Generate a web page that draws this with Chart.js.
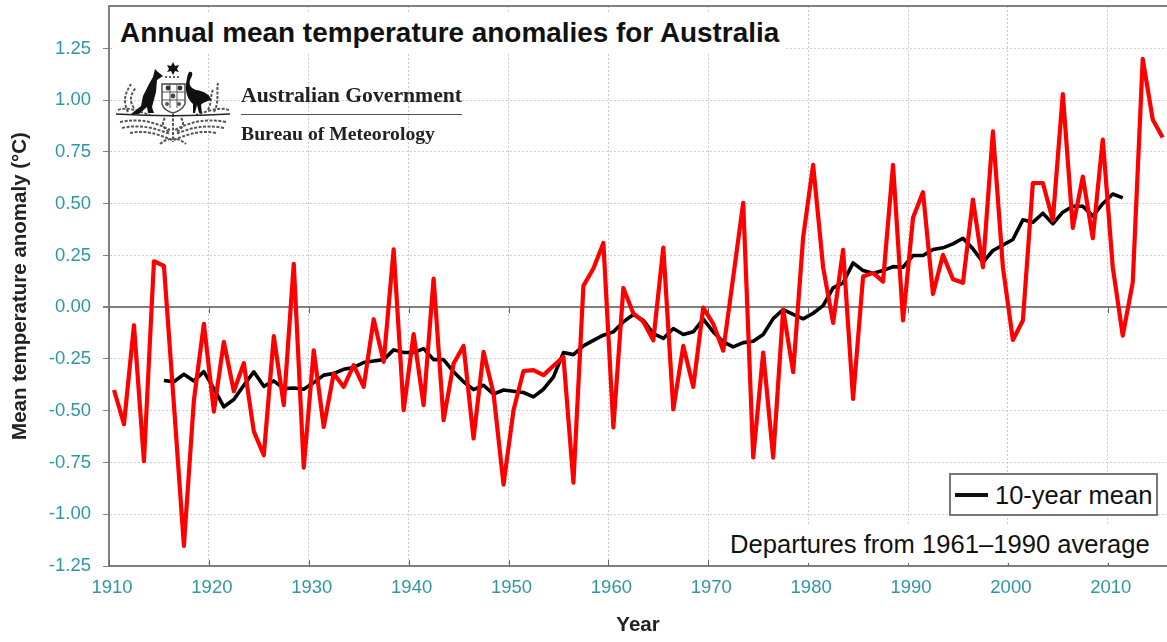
<!DOCTYPE html>
<html>
<head>
<meta charset="utf-8">
<title>Annual mean temperature anomalies for Australia</title>
<script src="https://cdn.jsdelivr.net/npm/chart.js@4/dist/chart.umd.min.js"></script>
<style>
  html, body { margin: 0; padding: 0; background: #fff; }
  #wrap { position: relative; width: 1167px; height: 642px; overflow: hidden; font-family: "Liberation Sans", Arial, sans-serif; }
  #myChart { position: absolute; left: 0; top: 0; }
  .box { position: absolute; white-space: nowrap; color: #111; }
  #chartTitle { left: 114px; top: 14px; height: 38px; width: 672px; padding-left: 6px; box-sizing: border-box; background: #fff; font-weight: bold; font-size: 27.9px; line-height: 37px; }
  #note { left: 722px; top: 526px; height: 37px; width: 436px; padding-left: 8px; box-sizing: border-box; background: #fff; font-size: 25.6px; line-height: 37px; }
  #legendBox { left: 949px; top: 473px; width: 209px; height: 43px; box-sizing: border-box; background: #fff; border: 2px solid #777; font-size: 25.5px; line-height: 41px; padding-left: 44px; }
  #legendLine { position: absolute; left: 4px; top: 18px; width: 33px; height: 4px; background: #111; }
  .org { font-family: "Liberation Serif", serif; font-weight: bold; color: #222; }
  #org1 { left: 241px; top: 83px; font-size: 21.7px; }
  #org2 { left: 241px; top: 122px; font-size: 19.7px; }
  #orgRule { position: absolute; left: 241px; top: 114px; width: 221px; height: 1px; background: #555; }
  #crest { position: absolute; left: 0; top: 0; }
</style>
</head>
<body>
<div id="wrap">
  <canvas id="myChart" width="1167" height="642"></canvas>
  <div class="box" id="chartTitle">Annual mean temperature anomalies for Australia</div>

  <svg id="crest" width="240" height="150" viewBox="0 0 240 150">
    <g fill="none" stroke="#555" stroke-width="2" stroke-dasharray="3 1.5">
      <path d="M128 112 C122 100 126 92 131 84"/>
      <path d="M134 108 C128 100 132 92 136 88"/>
      <path d="M214 112 C220 100 216 92 218 83"/>
      <path d="M208 110 C212 102 210 96 213 90"/>
      <path d="M120 122 C140 118 155 122 170 130"/>
      <path d="M226 122 C205 118 190 122 175 130"/>
      <path d="M122 128 C140 124 155 128 170 134"/>
      <path d="M224 128 C205 124 190 128 176 134"/>
      <path d="M130 133 C145 130 158 134 172 140"/>
      <path d="M216 133 C200 130 188 134 174 140"/>
      <path d="M118 110 C128 106 140 112 150 115"/>
      <path d="M229 110 C218 106 206 112 196 115"/>
      <path d="M173 114 L173 142"/>
      <path d="M160 144 C168 137 178 137 186 144"/>
      <path d="M165 118 C160 124 165 130 170 132"/>
      <path d="M181 118 C186 124 181 130 176 132"/>
    </g>
    <path d="M116 114 C150 116 195 116 230 114" fill="none" stroke="#222" stroke-width="1.5"/>
    <!-- kangaroo -->
    <path fill="#111" d="M155 69 L158 72 L163 76 L157 80 L156 92 L152 107 L154 113 L148 113 L147 107 L139 114 L131 114 L141 106 L143 96 L149 84 L153 77 Z"/>
    <!-- emu -->
    <path fill="#111" d="M189 72 C193 71 193 75 191 78 C188 83 190 88 196 90 C205 91 211 96 211 100 C205 102 202 103 201 105 L202 113 L199 113 L197 105 L195 113 L193 113 L193 104 C188 100 185 92 186 84 C187 79 187 75 189 72 Z"/>
    <!-- shield -->
    <path fill="#fff" stroke="#444" stroke-width="1.4" d="M162 84 L185 84 L185 104 C182 110 177 112 173 113 C169 112 164 110 162 104 Z"/>
    <path fill="none" stroke="#555" stroke-width="1" d="M162 92 L185 92 M162 100 L185 100 M170 84 L170 108 M177 84 L177 108"/>
    <circle cx="168" cy="88" r="2.4" fill="#333"/><circle cx="180" cy="88" r="2.4" fill="#333"/>
    <circle cx="173" cy="96" r="2.4" fill="#444"/><circle cx="167" cy="104" r="2" fill="#555"/><circle cx="179" cy="104" r="2" fill="#555"/>
    <!-- star and wreath -->
    <path fill="#111" d="M173 62 L175 66 L179 65 L177 69 L179 72 L175 71 L173 75 L171 71 L167 72 L169 69 L167 65 L171 66 Z"/>
    <path stroke="#333" stroke-width="1.5" stroke-dasharray="2 2" d="M165 77 L181 77"/>
  </svg>
  <div class="box org" id="org1">Australian Government</div>
  <div id="orgRule"></div>
  <div class="box org" id="org2">Bureau of Meteorology</div>

  <div class="box" id="legendBox"><span id="legendLine"></span>10-year mean</div>
  <div class="box" id="note">Departures from 1961–1990 average</div>
</div>

<script>
const axisGrey = '#808080';
const gridGrey = '#cccccc';
const tealText = '#2f97a3';

const yTicks = [-1.25, -1.00, -0.75, -0.50, -0.25, 0, 0.25, 0.50, 0.75, 1.00, 1.25];
const xTicks = [1910, 1920, 1930, 1940, 1950, 1960, 1970, 1980, 1990, 2000, 2010];

const years = [
  1910, 1911, 1912, 1913, 1914, 1915, 1916, 1917, 1918, 1919,
  1920, 1921, 1922, 1923, 1924, 1925, 1926, 1927, 1928, 1929,
  1930, 1931, 1932, 1933, 1934, 1935, 1936, 1937, 1938, 1939,
  1940, 1941, 1942, 1943, 1944, 1945, 1946, 1947, 1948, 1949,
  1950, 1951, 1952, 1953, 1954, 1955, 1956, 1957, 1958, 1959,
  1960, 1961, 1962, 1963, 1964, 1965, 1966, 1967, 1968, 1969,
  1970, 1971, 1972, 1973, 1974, 1975, 1976, 1977, 1978, 1979,
  1980, 1981, 1982, 1983, 1984, 1985, 1986, 1987, 1988, 1989,
  1990, 1991, 1992, 1993, 1994, 1995, 1996, 1997, 1998, 1999,
  2000, 2001, 2002, 2003, 2004, 2005, 2006, 2007, 2008, 2009,
  2010, 2011, 2012, 2013, 2014, 2015
];

const annualAnomaly = [
  -0.40, -0.565, -0.087, -0.744, 0.222, 0.20, -0.47, -1.153, -0.45, -0.08,
  -0.504, -0.167, -0.406, -0.27, -0.60, -0.715, -0.14, -0.473, 0.21, -0.775,
  -0.208, -0.578, -0.32, -0.385, -0.28, -0.385, -0.058, -0.264, 0.279, -0.497,
  -0.13, -0.473, 0.138, -0.546, -0.272, -0.187, -0.634, -0.216, -0.417, -0.857,
  -0.498, -0.308, -0.304, -0.328, -0.283, -0.24, -0.847, 0.103, 0.187, 0.31,
  -0.581, 0.093, -0.03, -0.07, -0.16, 0.288, -0.494, -0.187, -0.385, -0.002,
  -0.08, -0.21, 0.146, 0.504, -0.726, -0.219, -0.726, -0.011, -0.314, 0.338,
  0.688, 0.193, -0.076, 0.277, -0.443, 0.148, 0.166, 0.124, 0.688, -0.064,
  0.432, 0.556, 0.064, 0.253, 0.135, 0.118, 0.52, 0.193, 0.849, 0.193,
  -0.158, -0.064, 0.60, 0.60, 0.42, 1.03, 0.383, 0.631, 0.333, 0.81,
  0.193, -0.137, 0.12, 1.20, 0.907, 0.82
];

// runs 1915 to 2011
const tenYearStart = 1915;
const tenYearMean = [
  -0.354, -0.36, -0.324, -0.356, -0.311,
  -0.393, -0.481, -0.446, -0.377, -0.312, -0.382, -0.356, -0.393, -0.39, -0.396,
  -0.364, -0.328, -0.32, -0.30, -0.291, -0.267, -0.26, -0.253, -0.206, -0.219,
  -0.219, -0.20, -0.253, -0.253, -0.312, -0.36, -0.398, -0.377, -0.42, -0.40,
  -0.406, -0.412, -0.433, -0.396, -0.337, -0.219, -0.229, -0.187, -0.16, -0.135,
  -0.119, -0.071, -0.035, -0.063, -0.127, -0.151, -0.103, -0.132, -0.119, -0.058,
  -0.119, -0.167, -0.192, -0.171, -0.164, -0.132, -0.055, -0.011, -0.035, -0.056,
  -0.029, 0.008, 0.093, 0.118, 0.214, 0.177, 0.164, 0.177, 0.196, 0.193,
  0.25, 0.25, 0.279, 0.287, 0.306, 0.333, 0.282, 0.217, 0.274, 0.30,
  0.327, 0.422, 0.41, 0.454, 0.403, 0.459, 0.488, 0.488, 0.44, 0.50,
  0.547, 0.528
];

// annual values sit mid-year on the axis
const redPoints = years.map((yr, i) => ({ x: yr + 0.5, y: annualAnomaly[i] }));
const blackPoints = tenYearMean.map((v, i) => ({ x: tenYearStart + i + 0.5, y: v }));

const frameLines = {
  id: 'frameLines',
  beforeDatasetsDraw(c) {
    const { ctx, chartArea: a, scales } = c;
    ctx.save();
    ctx.strokeStyle = axisGrey;
    ctx.lineWidth = 2;
    ctx.beginPath();
    ctx.moveTo(a.left, a.top);
    ctx.lineTo(a.right, a.top);
    ctx.stroke();
    // small inward ticks on the base line and the zero line
    ctx.lineWidth = 1;
    ctx.strokeStyle = '#666';
    const zero = scales.y.getPixelForValue(0);
    xTicks.forEach(t => {
      const px = Math.round(scales.x.getPixelForValue(t)) + 0.5;
      ctx.beginPath();
      ctx.moveTo(px, zero);
      ctx.lineTo(px, zero + 6);
      ctx.moveTo(px, a.bottom);
      ctx.lineTo(px, a.bottom - 6);
      ctx.stroke();
    });
    ctx.restore();
  }
};

new Chart(document.getElementById('myChart').getContext('2d'), {
  type: 'line',
  data: {
    datasets: [
      { label: '10-year mean', data: blackPoints, borderColor: '#000', borderWidth: 3.6, borderJoinStyle: 'round', pointRadius: 0, tension: 0, order: 2 },
      { label: 'Annual mean', data: redPoints, borderColor: '#ff0000', borderWidth: 4.2, borderJoinStyle: 'round', pointRadius: 0, tension: 0, order: 1 }
    ]
  },
  plugins: [frameLines],
  options: {
    responsive: false,
    animation: false,
    layout: { padding: { top: 6, right: 0, left: 0, bottom: 0 } },
    plugins: { legend: { display: false }, tooltip: { enabled: false }, title: { display: false } },
    scales: {
      x: {
        type: 'linear',
        min: 1910,
        max: 2015.93,
        afterBuildTicks: s => { s.ticks = xTicks.map(v => ({ value: v })); },
        afterFit: s => { s.height = 76; s.paddingLeft = 0; s.paddingRight = 0; },
        ticks: {
          color: tealText,
          font: { family: '"Liberation Sans"', size: 18.5 },
          padding: 11,
          labelOffset: 3,
          maxRotation: 0,
          callback: v => String(v)
        },
        grid: { color: gridGrey, lineWidth: 1, drawTicks: false },
        border: { color: axisGrey, width: 2, dash: [2, 2] },
        title: {
          display: true, text: 'Year', color: '#222',
          font: { family: '"Liberation Sans"', size: 20.5, weight: 'bold' },
          padding: { top: 0, bottom: 4 }
        }
      },
      y: {
        min: -1.25,
        max: 1.455,
        afterBuildTicks: s => { s.ticks = yTicks.map(v => ({ value: v })); },
        afterFit: s => { s.width = 109; s.paddingTop = 0; s.paddingBottom = 0; },
        ticks: {
          color: tealText,
          font: { family: '"Liberation Sans"', size: 18.5 },
          padding: 12,
          callback: v => v.toFixed(2)
        },
        grid: {
          color: ctx => ctx.tick && ctx.tick.value === 0 ? axisGrey : gridGrey,
          lineWidth: ctx => ctx.tick && ctx.tick.value === 0 ? 2 : 1,
          tickColor: axisGrey,
          tickLength: 6,
          tickBorderDash: []
        },
        border: {
          color: axisGrey, width: 2,
          dash: ctx => ctx.tick && ctx.tick.value === 0 ? [] : [2, 2]
        },
        title: {
          display: true, text: 'Mean temperature anomaly (°C)', color: '#222',
          font: { family: '"Liberation Sans"', size: 20.5, weight: 'bold' },
          padding: { top: 8, bottom: 0 }
        }
      }
    }
  }
});
</script>
</body>
</html>
